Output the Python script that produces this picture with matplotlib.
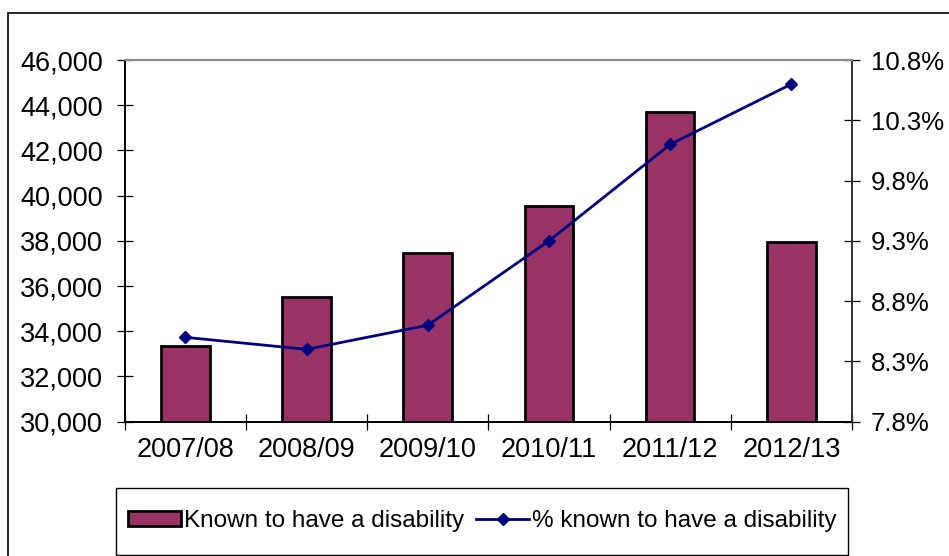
import numpy as np
import matplotlib.pyplot as plt
from matplotlib.patches import Rectangle
from matplotlib.ticker import FuncFormatter

plt.rcParams['font.family'] = ['Liberation Sans', 'DejaVu Sans']

# data
years = ['2007/08', '2008/09', '2009/10', '2010/11', '2011/12', '2012/13']
known = [33360, 35530, 37460, 39520, 43680, 37930]
pct_known = [8.50, 8.40, 8.60, 9.30, 10.10, 10.60]

bar_col = '#993366'
line_col = '#000080'

fig = plt.figure(figsize=(9.49, 5.56), dpi=100)
W, H = 949, 556

# outer chart border (only top and left are inside the canvas)
fig.patches.append(Rectangle((8 / W, -0.2), 2, 1 - 13 / H + 0.2, transform=fig.transFigure,
                             fill=False, edgecolor='black', linewidth=1.2))

ax = fig.add_axes([124.7 / W, 1 - 421.7 / H, (852 - 124.7) / W, (421.7 - 60) / H])
x = np.arange(len(years))
ax.bar(x, known, width=0.4, color=bar_col, edgecolor='black', linewidth=2, zorder=2,
       label='Known to have a disability')
ax.set_xlim(-0.5, len(years) - 0.5)
ax.set_ylim(30000, 46000)
ax.set_yticks(np.arange(30000, 46001, 2000))
ax.yaxis.set_major_formatter(FuncFormatter(lambda v, p: '{:,.0f}'.format(v)))

# category boundaries get tick marks, labels sit in the middle
ax.set_xticks(np.arange(-0.5, len(years), 1))
ax.set_xticklabels([])
ax.set_xticks(x, minor=True)
ax.set_xticklabels(years, minor=True)
ax.tick_params(axis='x', which='major', direction='inout', length=11, width=0.9)
ax.tick_params(axis='x', which='minor', length=0, pad=11, labelsize=19.5)
ax.tick_params(axis='y', direction='inout', length=11, width=0.9, pad=10, labelsize=19.5)

ax2 = ax.twinx()
ax2.plot(x, pct_known, color=line_col, linewidth=2, marker='D', markersize=6,
         label='% known to have a disability', zorder=3)
ax2.set_ylim(7.8, 10.8)
ax2.set_yticks(np.arange(7.8, 10.81, 0.5))
ax2.yaxis.set_major_formatter(FuncFormatter(lambda v, p: '{:.1f}%'.format(v)))
ax2.tick_params(axis='y', direction='inout', length=11, width=0.9, pad=8, labelsize=18.5)

for a in (ax, ax2):
    a.spines['top'].set_color('#8c8c8c')
    a.spines['top'].set_linewidth(1.5)
    a.spines['left'].set_linewidth(1.2)
    a.spines['right'].set_linewidth(1.2)
    a.spines['right'].set_color('#333333')
    a.spines['bottom'].set_linewidth(1.2)

# legend box
lx0, lx1, ly0, ly1 = 116, 848, 487.5, 555
fig.patches.append(Rectangle((lx0 / W, 1 - ly1 / H), (lx1 - lx0) / W, (ly1 - ly0) / H,
                             transform=fig.transFigure, fill=False, edgecolor='black', linewidth=1))
h1, l1 = ax.get_legend_handles_labels()
h2, l2 = ax2.get_legend_handles_labels()
fig.legend(h1 + h2, l1 + l2, loc='center',
           bbox_to_anchor=((lx0 + lx1) / 2 / W, 1 - (ly0 + ly1) / 2 / H),
           ncol=2, frameon=False, fontsize=17.5, handlelength=2.2, handleheight=0.55,
           handletextpad=0.1, columnspacing=0.5, borderpad=0)

fig.savefig('out.png', dpi=100)
